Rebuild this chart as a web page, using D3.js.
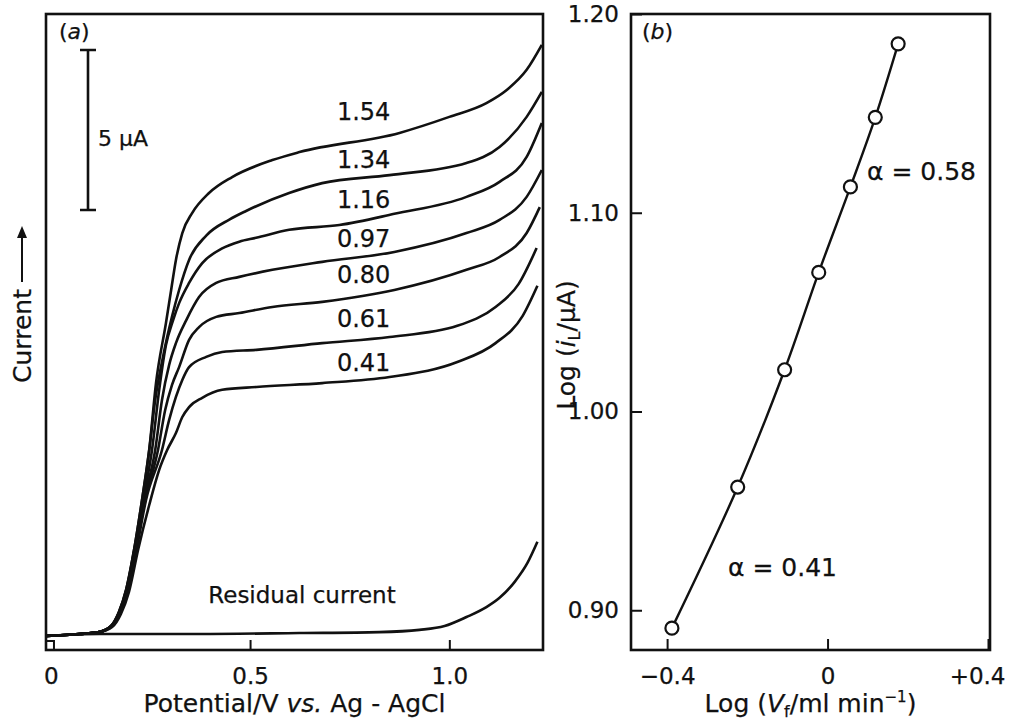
<!DOCTYPE html>
<html>
<head>
<meta charset="utf-8">
<script src="https://cdn.jsdelivr.net/npm/d3@7"></script>
<style>
  body { margin: 0; background: #fff; }
  svg text { font-family: "DejaVu Sans", sans-serif; fill: #111; stroke: #111; stroke-width: 0.25px; }
</style>
</head>
<body>
<div id="chart"></div>
<script>
// ---- data ----
// flow rates, ml/min, one per voltammogram
var flowRates = [1.54, 1.34, 1.16, 0.97, 0.80, 0.61, 0.41];

// voltammograms: [potential / V, current / uA]
var curve154 = [[-0.012,0.44],[0.071,0.5],[0.121,0.56],[0.151,0.75],[0.171,1.19],[0.189,1.88],[0.209,3.13],[0.229,4.69],
  [0.247,6.25],[0.264,8.34],[0.289,10.22],[0.302,11.25],[0.314,12.19],[0.330,13.03],[0.355,13.66],[0.397,14.28],
  [0.455,14.78],[0.556,15.31],[0.624,15.56],[0.875,16.16],[1.0,16.66],[1.093,17.09],[1.144,17.5],[1.194,18.13],[1.232,18.91]];
var curve134 = [[-0.012,0.44],[0.071,0.5],[0.121,0.56],[0.151,0.75],[0.171,1.19],[0.189,1.88],[0.209,3.13],[0.229,4.69],
  [0.247,6.25],[0.262,7.81],[0.282,9.19],[0.304,10.41],[0.322,11.25],[0.347,12.19],[0.390,12.95],[0.448,13.45],
  [0.490,13.72],[0.598,14.28],[0.681,14.59],[0.850,14.84],[1.043,15.22],[1.126,15.72],[1.194,16.66],[1.232,17.44]];
var curve116 = [[-0.012,0.44],[0.071,0.5],[0.121,0.56],[0.152,0.75],[0.172,1.19],[0.190,1.88],[0.210,3.13],[0.232,4.69],
  [0.254,6.25],[0.272,8.13],[0.289,9.53],[0.307,10.31],[0.322,10.84],[0.347,11.47],[0.380,12.09],[0.430,12.55],
  [0.473,12.76],[0.515,12.88],[0.598,13.13],[0.724,13.28],[0.862,13.63],[1.043,14.16],[1.126,14.63],[1.194,15.41],[1.232,16.47]];
var curve097 = [[-0.012,0.44],[0.071,0.5],[0.121,0.56],[0.152,0.75],[0.173,1.19],[0.191,1.88],[0.211,3.13],[0.234,4.69],
  [0.262,6.25],[0.279,7.81],[0.297,8.91],[0.314,9.59],[0.340,10.31],[0.372,11.03],[0.415,11.47],[0.473,11.66],
  [0.556,11.88],[0.681,12.13],[0.862,12.44],[1.043,13.03],[1.126,13.44],[1.194,14.16],[1.232,15.0]];
var curve080 = [[-0.012,0.44],[0.071,0.5],[0.121,0.56],[0.153,0.75],[0.174,1.19],[0.192,1.88],[0.213,3.13],[0.237,4.69],
  [0.269,6.25],[0.287,7.5],[0.304,8.28],[0.322,8.84],[0.347,9.69],[0.372,10.09],[0.415,10.41],[0.473,10.53],
  [0.556,10.72],[0.681,10.88],[0.862,11.25],[1.043,11.88],[1.126,12.28],[1.194,13.03],[1.227,13.84]];
var curve061 = [[-0.012,0.44],[0.071,0.5],[0.121,0.56],[0.153,0.74],[0.175,1.17],[0.194,1.85],[0.215,3.13],[0.239,4.69],
  [0.279,6.25],[0.297,7.19],[0.314,7.91],[0.330,8.44],[0.347,8.84],[0.390,9.16],[0.430,9.31],[0.516,9.38],
  [0.681,9.59],[0.850,9.78],[1.020,10.13],[1.116,10.72],[1.174,11.44],[1.219,12.56]];
var curve041 = [[-0.012,0.44],[0.071,0.5],[0.121,0.56],[0.154,0.72],[0.176,1.13],[0.196,1.81],[0.219,3.13],[0.247,4.53],
  [0.272,5.63],[0.292,6.25],[0.314,6.78],[0.330,7.28],[0.347,7.59],[0.380,7.88],[0.430,8.13],[0.516,8.22],
  [0.681,8.34],[0.850,8.53],[1.020,9.0],[1.116,9.59],[1.184,10.44],[1.221,11.38]];
var residual = [[-0.012,0.44],[0.121,0.5],[0.372,0.5],[0.624,0.53],[0.824,0.56],[0.925,0.63],[0.988,0.75],
  [1.043,1.03],[1.093,1.34],[1.126,1.63],[1.164,2.13],[1.196,2.72],[1.221,3.38]];

// panel (b): log flow rate vs log limiting current
var logFlow = [-0.388, -0.224, -0.107, -0.022, 0.057, 0.119, 0.176];
var logLimiting = [0.891, 0.962, 1.021, 1.070, 1.113, 1.148, 1.185];

var xTicksA = [0, 0.5, 1.0];
var xTicksB = [-0.4, 0, 0.4];
var yTicksB = [0.90, 1.00, 1.10, 1.20];

// ---- layout ----
var W = 1013, H = 728;
var pa = {left: 46, right: 543, top: 14, bottom: 650};
var pb = {left: 631, right: 990, top: 14, bottom: 650};
var labelLift = [20, 10, 12, 9, 12, 12, 8];

var svg = d3.select("#chart")
  .append("svg")
    .attr("width", W)
    .attr("height", H)
    .style("display", "block");

var curves = [curve154, curve134, curve116, curve097, curve080, curve061, curve041];

// scales
var xA = d3.scaleLinear().domain([-0.012, 1.235]).range([pa.left, pa.right]);
var yA = d3.scaleLinear().domain([0, 19.875]).range([pa.bottom, pa.top]);
var xB = d3.scaleLinear().domain([-0.49, 0.405]).range([pb.left, pb.right]);
var yB = d3.scaleLinear().domain([0.88, 1.20]).range([pb.bottom, pb.top]);

// ===== panel (a) =====
var lineA = d3.line()
  .x(function(d) { return xA(d[0]); })
  .y(function(d) { return yA(d[1]); })
  .curve(d3.curveMonotoneX);

svg.append("g")
  .selectAll("path")
  .data(curves.concat([residual]))
  .enter().append("path")
    .attr("d", lineA)
    .attr("fill", "none")
    .attr("stroke", "#111")
    .attr("stroke-width", 2.6)
    .attr("stroke-linejoin", "round");

// frame
svg.append("rect")
  .attr("x", pa.left).attr("y", pa.top)
  .attr("width", pa.right - pa.left).attr("height", pa.bottom - pa.top)
  .attr("fill", "none").attr("stroke", "#111").attr("stroke-width", 2.6);

// x axis (ticks inward)
var axA = svg.append("g")
  .attr("transform", "translate(0," + pa.bottom + ")")
  .call(d3.axisBottom(xA)
    .tickValues(xTicksA)
    .tickSize(-10)
    .tickPadding(18)
    .tickFormat(function(d) { return d === 0 ? "0" : d.toFixed(1); }));
axA.select(".domain").remove();
axA.selectAll("line").attr("stroke", "#111").attr("stroke-width", 2)
  .filter(function(d) { return d === 0; }).remove();
axA.selectAll("text").style("font-size", "23px").attr("fill", "#111");

// little box at the origin
svg.append("rect")
  .attr("x", xA(-0.012)).attr("y", pa.bottom - 9)
  .attr("width", xA(0.008) - xA(-0.012)).attr("height", 9)
  .attr("fill", "none").attr("stroke", "#111").attr("stroke-width", 2);

// curve labels (flow rates)
function curveAt(pts, v) {
  for (var i = 1; i < pts.length; i++) {
    if (pts[i][0] >= v) {
      var t = (v - pts[i-1][0]) / (pts[i][0] - pts[i-1][0]);
      return pts[i-1][1] + t * (pts[i][1] - pts[i-1][1]);
    }
  }
  return pts[pts.length - 1][1];
}
var labelV = 0.785;
svg.append("g")
  .selectAll("text")
  .data(flowRates)
  .enter().append("text")
    .attr("x", xA(labelV))
    .attr("y", function(d, i) { return yA(curveAt(curves[i], labelV)) - labelLift[i]; })
    .attr("text-anchor", "middle")
    .style("font-size", "24px")
    .text(function(d) { return d.toFixed(2); });

svg.append("text")
  .attr("x", 302).attr("y", 603)
  .attr("text-anchor", "middle")
  .style("font-size", "23px")
  .text("Residual current");

// (a)
var ta = svg.append("text").attr("x", pa.left + 13).attr("y", 39).style("font-size", "22px");
ta.append("tspan").text("(");
ta.append("tspan").style("font-style", "italic").text("a");
ta.append("tspan").text(")");

// 5 uA scale bar
var barX = 88, barTop = yA(18.75), barBot = yA(13.75);
svg.append("path")
  .attr("d", "M" + (barX - 8) + "," + barTop + "H" + (barX + 8) +
             "M" + barX + "," + barTop + "V" + barBot +
             "M" + (barX - 8) + "," + barBot + "H" + (barX + 8))
  .attr("stroke", "#111").attr("stroke-width", 2.6).attr("fill", "none");
svg.append("text")
  .attr("x", 98).attr("y", 146)
  .style("font-size", "22px")
  .text("5 \u03bcA");

// axis titles (a)
var tx = svg.append("text")
  .attr("x", (pa.left + pa.right) / 2).attr("y", 712)
  .attr("text-anchor", "middle")
  .style("font-size", "25px");
tx.append("tspan").text("Potential/V ");
tx.append("tspan").style("font-style", "italic").text("vs.");
tx.append("tspan").text(" Ag - AgCl");

svg.append("text")
  .attr("transform", "translate(31,336) rotate(-90)")
  .attr("text-anchor", "middle")
  .style("font-size", "25px")
  .text("Current");
svg.append("path")
  .attr("d", "M22,282V232")
  .attr("stroke", "#111").attr("stroke-width", 2);
svg.append("path")
  .attr("d", "M17,238L22,226L27,238Z")
  .attr("fill", "#111");

// ===== panel (b) =====
var lineB = d3.line()
  .x(function(d) { return xB(d[0]); })
  .y(function(d) { return yB(d[1]); })
  .curve(d3.curveCatmullRom.alpha(0.5));

var ptsB = logFlow.map(function(v, i) { return [v, logLimiting[i]]; });

svg.append("path")
  .datum(ptsB)
  .attr("d", lineB)
  .attr("fill", "none")
  .attr("stroke", "#111")
  .attr("stroke-width", 2.4);

svg.append("g")
  .selectAll("circle")
  .data(ptsB)
  .enter().append("circle")
    .attr("cx", function(d) { return xB(d[0]); })
    .attr("cy", function(d) { return yB(d[1]); })
    .attr("r", 6.5)
    .attr("fill", "#fff")
    .attr("stroke", "#111")
    .attr("stroke-width", 2.2);

svg.append("rect")
  .attr("x", pb.left).attr("y", pb.top)
  .attr("width", pb.right - pb.left).attr("height", pb.bottom - pb.top)
  .attr("fill", "none").attr("stroke", "#111").attr("stroke-width", 2.6);

var axBx = svg.append("g")
  .attr("transform", "translate(0," + pb.bottom + ")")
  .call(d3.axisBottom(xB)
    .tickValues(xTicksB)
    .tickSize(-11)
    .tickPadding(18)
    .tickFormat(function(d) { return d > 0 ? "+" + d : (d === 0 ? "0" : "\u2212" + Math.abs(d)); }));
axBx.select(".domain").remove();
axBx.selectAll("line").attr("stroke", "#111").attr("stroke-width", 2);
axBx.selectAll("text").style("font-size", "23px").attr("fill", "#111")
  .filter(function(d) { return d > 0; })
    .attr("text-anchor", "end")
    .attr("x", 17);

var axBy = svg.append("g")
  .attr("transform", "translate(" + pb.left + ",0)")
  .call(d3.axisLeft(yB)
    .tickValues(yTicksB)
    .tickSize(-11)
    .tickPadding(12)
    .tickFormat(d3.format(".2f")));
axBy.select(".domain").remove();
axBy.selectAll("line").attr("stroke", "#111").attr("stroke-width", 2);
axBy.selectAll("text").style("font-size", "23px").attr("fill", "#111");

// (b)
var tb = svg.append("text").attr("x", pb.left + 11).attr("y", 39).style("font-size", "22px");
tb.append("tspan").text("(");
tb.append("tspan").style("font-style", "italic").text("b");
tb.append("tspan").text(")");

// slope annotations
svg.append("text")
  .attr("x", 867).attr("y", 180)
  .style("font-size", "25px")
  .text("\u03b1 = 0.58");
svg.append("text")
  .attr("x", 728).attr("y", 576)
  .style("font-size", "25px")
  .text("\u03b1 = 0.41");

// axis titles (b)
var tbx = svg.append("text")
  .attr("x", (pb.left + pb.right) / 2).attr("y", 712)
  .attr("text-anchor", "middle")
  .style("font-size", "25px");
tbx.append("tspan").text("Log (");
tbx.append("tspan").style("font-style", "italic").text("V");
tbx.append("tspan").style("font-size", "16px").attr("dy", 5).text("f");
tbx.append("tspan").attr("dy", -5).text("/ml min");
tbx.append("tspan").style("font-size", "15px").attr("dy", -10).text("\u22121");
tbx.append("tspan").attr("dy", 10).text(")");

var tby = svg.append("text")
  .attr("transform", "translate(575,345) rotate(-90)")
  .attr("text-anchor", "middle")
  .style("font-size", "25px");
tby.append("tspan").text("Log (");
tby.append("tspan").style("font-style", "italic").text("i");
tby.append("tspan").style("font-size", "16px").attr("dy", 5).text("L");
tby.append("tspan").attr("dy", -5).text("/\u03bcA)");
</script>
</body>
</html>
